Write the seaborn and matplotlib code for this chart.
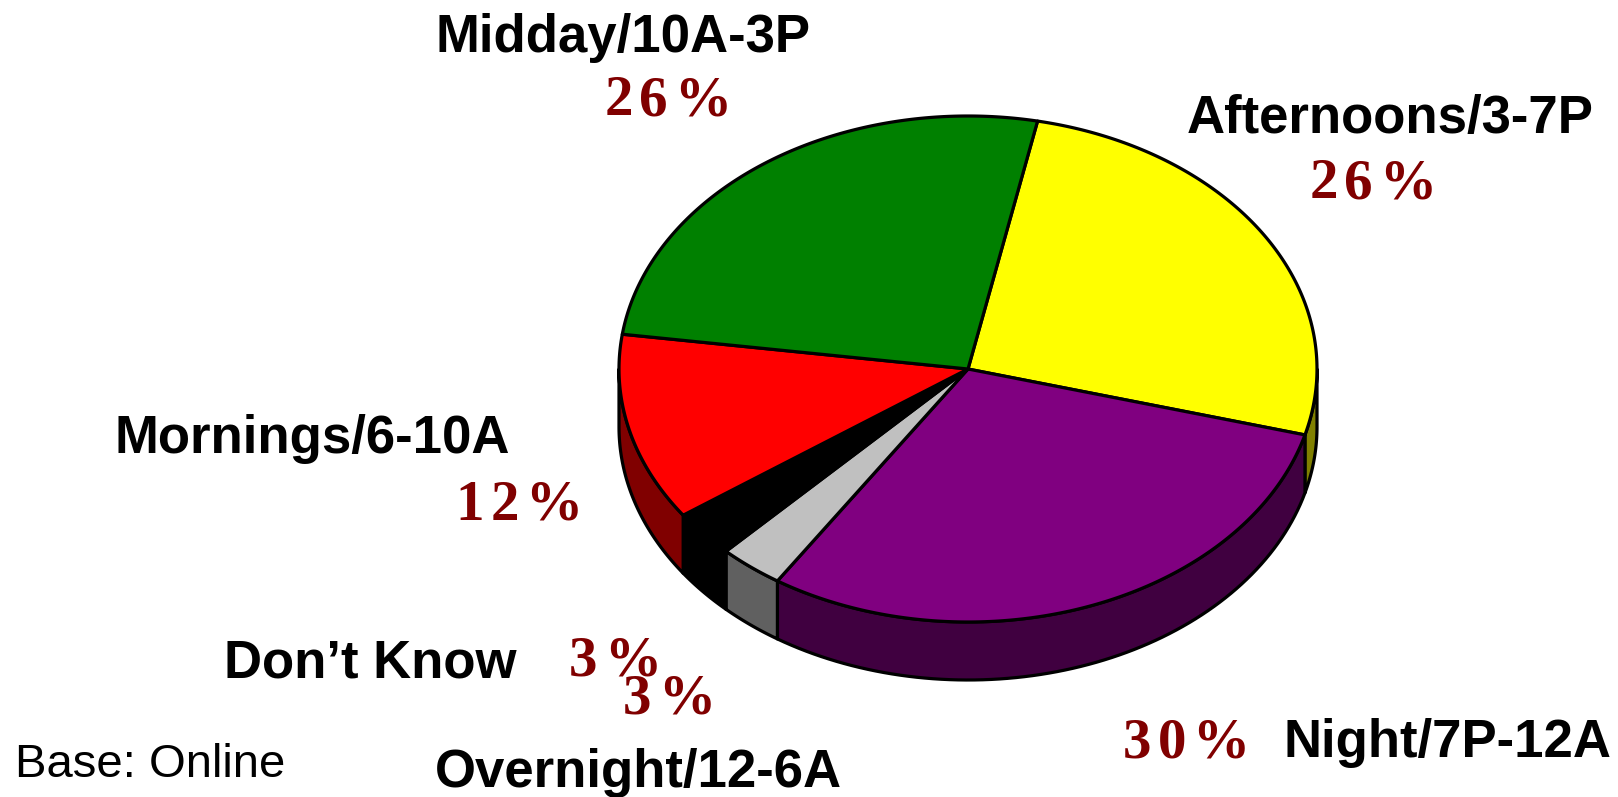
import numpy as np
import matplotlib
matplotlib.use("Agg")
import matplotlib.pyplot as plt
from matplotlib.patches import Polygon
import seaborn as sns

# ---------------- data ----------------
categories = ["Afternoons/3-7P", "Night/7P-12A", "Overnight/12-6A",
              "Don\u2019t Know", "Mornings/6-10A", "Midday/10A-3P"]
values = [26, 30, 3, 3, 12, 26]
pct_labels = ["26%", "30%", "3%", "3%", "12%", "26%"]
top_colors = ["#FFFF00", "#800080", "#C0C0C0", "#000000", "#FF0000", "#008000"]
side_colors = ["#808000", "#400040", "#606060", "#000000", "#800000", "#004000"]
base_note = "Base: Online"

# ---------------- layout ----------------
sns.set_style("white")
plt.rcParams["font.family"] = ["Liberation Sans", "DejaVu Sans"]

W, H = 1618, 797
fig = plt.figure(figsize=(W / 100, H / 100), dpi=100)
ax = fig.add_axes([0, 0, 1, 1])
ax.set_xlim(0, W)
ax.set_ylim(H, 0)
ax.axis("off")

CX, CY = 968, 369      # pie centre (px)
RX, RY = 349, 253      # ellipse radii
DEPTH = 58             # thickness of the pie
START = 78.5           # start angle, clockwise
LW = 2.3

def pt(t_deg, dy=0.0):
    t = np.radians(t_deg)
    return CX + RX * np.cos(t), CY - RY * np.sin(t) + dy

total = float(sum(values))
bounds = []
acc = 0.0
for v in values:
    t0 = START - 360.0 * acc / total
    t1 = START - 360.0 * (acc + v) / total
    bounds.append((t0, t1))
    acc += v

# side walls (front half: angles between -180 and 0)
for (t0, t1), sc in zip(bounds, side_colors):
    hi = min(t0, 0.0)
    lo = max(t1, -180.0)
    if hi <= lo:
        continue
    ts = np.linspace(hi, lo, 80)
    top = [pt(t) for t in ts]
    bot = [pt(t, DEPTH) for t in ts[::-1]]
    ax.add_patch(Polygon(top + bot, closed=True, facecolor=sc,
                         edgecolor="black", linewidth=LW, joinstyle="round"))

# top faces
for (t0, t1), tc in zip(bounds, top_colors):
    ts = np.linspace(t0, t1, 200)
    verts = [(CX, CY)] + [pt(t) for t in ts]
    ax.add_patch(Polygon(verts, closed=True, facecolor=tc,
                         edgecolor="black", linewidth=LW, joinstyle="round"))

# label positions (x centre, baseline y) for category and percentage
label_pos = [(1390, 133), (1448, 757), (638, 787), (370, 677), (312, 453), (623, 52)]
pct_pos = [(1373, 198), (1186, 757), (669, 713), (615, 675), (519, 520), (668, 115)]

for name, (lx, ly) in zip(categories, label_pos):
    ax.text(lx, ly, name, ha="center", va="baseline", fontsize=38,
            fontweight="bold", color="black",
            family=["Liberation Sans", "DejaVu Sans"])

# percentages with a little letter spacing (tracking)
renderer = fig.canvas.get_renderer()
TRACK = 6  # px between characters
for p, (px, py) in zip(pct_labels, pct_pos):
    texts = []
    widths = []
    for ch in p:
        t = ax.text(0, py, ch, ha="left", va="baseline", fontsize=41,
                    fontweight="bold", color="#800000",
                    family=["Liberation Serif", "DejaVu Serif"])
        texts.append(t)
        widths.append(t.get_window_extent(renderer).width)
    total_w = sum(widths) + TRACK * (len(p) - 1)
    x = px - total_w / 2
    for t, w in zip(texts, widths):
        t.set_x(x)
        x += w + TRACK

ax.text(15, 777, base_note, ha="left", va="baseline", fontsize=34,
        color="black", family=["Liberation Sans", "DejaVu Sans"])

fig.savefig("out.png", dpi=100, facecolor="white")
